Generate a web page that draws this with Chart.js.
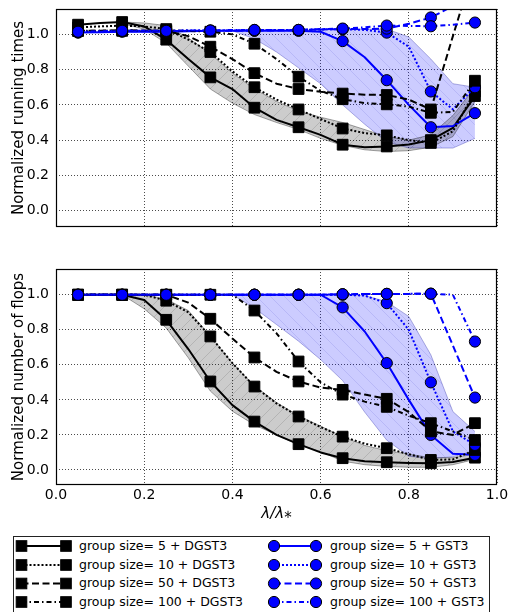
<!DOCTYPE html>
<html><head><meta charset="utf-8">
<script src="https://cdn.jsdelivr.net/npm/chart.js@4/dist/chart.umd.min.js"></script>
<style>
html,body{margin:0;padding:0;background:#fff;width:510px;height:612px;overflow:hidden;font-family:'DejaVu Sans',sans-serif;}
canvas{position:absolute;left:0;}
#c1{top:0;}
#c2{top:250px;}
#legend{position:absolute;left:13px;top:536px;width:477px;height:100px;border:1px solid #222;box-sizing:border-box;}
#legend svg{position:absolute;left:0;top:0;}
.lt{position:absolute;height:18px;line-height:18px;font-size:12.5px;white-space:nowrap;color:#000;}
</style></head><body>
<canvas id="c1" width="510" height="240"></canvas>
<canvas id="c2" width="510" height="280"></canvas>
<div id="legend"></div>
<script>
// ---------- data ----------
const lambdas = [0.05,0.10,0.15,0.20,0.25,0.30,0.35,0.40,0.45,0.50,0.55,0.60,0.65,0.70,0.75,0.80,0.85,0.90,0.95];
const xTicks = [0.0,0.2,0.4,0.6,0.8,1.0];
const yTicks = [0.0,0.2,0.4,0.6,0.8,1.0];
const groupSizes = ['5','10','50','100'];
const methods = ['DGST3','GST3'];

// running times (top)
const timeDGST3_5   = [1.055,1.065,1.07,1.045,0.97,0.86,0.756,0.69,0.584,0.515,0.473,0.43,0.374,0.36,0.364,0.375,0.40,0.47,0.65];
const timeDGST3_10  = [1.04,1.045,1.05,1.045,1.03,0.97,0.90,0.79,0.70,0.63,0.574,0.52,0.466,0.44,0.427,0.40,0.384,0.45,0.676];
const timeDGST3_50  = [1.02,1.02,1.025,1.02,1.02,0.99,0.93,0.86,0.78,0.72,0.69,0.675,0.664,0.658,0.656,0.63,0.574,0.99,1.40];
const timeDGST3_100 = [1.02,1.02,1.02,1.02,1.02,1.02,1.015,1.0,0.947,0.86,0.76,0.68,0.632,0.61,0.603,0.59,0.555,0.56,0.737];
const timeGST3_5    = [1.01,1.012,1.015,1.015,1.015,1.018,1.02,1.02,1.02,1.02,1.02,1.015,0.962,0.87,0.74,0.60,0.473,0.48,0.553];
const timeGST3_10   = [1.015,1.018,1.02,1.02,1.02,1.022,1.022,1.022,1.025,1.025,1.025,1.028,1.03,1.025,1.01,0.93,0.676,0.575,0.70];
const timeGST3_50   = [1.012,1.015,1.018,1.018,1.018,1.02,1.02,1.02,1.022,1.022,1.025,1.028,1.03,1.03,1.033,1.06,1.096,1.16,1.25];
const timeGST3_100  = [1.015,1.018,1.02,1.02,1.02,1.022,1.022,1.025,1.025,1.025,1.025,1.03,1.033,1.04,1.05,1.048,1.046,1.055,1.067];
const timeBandDGST3_low  = [null,null,1.06,1.03,0.95,0.82,0.69,0.61,0.545,0.50,0.46,0.41,0.37,0.345,0.335,0.34,0.36,0.42,0.62];
const timeBandDGST3_high = [null,null,1.07,1.065,1.05,0.98,0.89,0.78,0.69,0.62,0.565,0.53,0.50,0.46,0.42,0.40,0.43,0.54,0.70];
const timeBandGST3_low   = [null,null,null,null,null,null,null,1.02,0.975,0.90,0.81,0.72,0.60,0.49,0.39,0.355,0.355,0.355,0.41];
const timeBandGST3_high  = [null,null,null,null,null,null,null,1.02,1.025,1.025,1.025,1.025,1.03,1.03,1.03,0.985,0.86,0.72,0.70];

// number of flops (bottom)
const flopsDGST3_5   = [1,1,1,0.97,0.857,0.69,0.505,0.37,0.276,0.20,0.147,0.10,0.067,0.05,0.044,0.04,0.038,0.045,0.07];
const flopsDGST3_10  = [1,1,1,1,0.966,0.90,0.762,0.61,0.476,0.38,0.305,0.245,0.19,0.15,0.124,0.09,0.057,0.06,0.114];
const flopsDGST3_50  = [1,1,1,1,1,0.955,0.863,0.75,0.642,0.56,0.505,0.47,0.457,0.43,0.406,0.33,0.22,0.20,0.267];
const flopsDGST3_100 = [1,1,1,1,1,1,1,1,0.91,0.78,0.619,0.50,0.43,0.39,0.36,0.31,0.267,0.22,0.171];
const flopsGST3_5    = [1,1,1,1,1,1,1,1,1,1,1,1,0.928,0.79,0.61,0.40,0.20,0.092,0.086];
const flopsGST3_10   = [1,1,1,1,1,1,1,1,1,1,1,1,1,0.995,0.952,0.80,0.50,0.22,0.143];
const flopsGST3_50   = [1,1,1,1,1,1,1,1,1,1,1,1,1.003,1.004,1.005,1.005,1.006,0.71,0.413];
const flopsGST3_100  = [1,1,1,1,1,1,1,1,1,1,1,1,1.003,1.004,1.005,1.005,1.006,1.0,0.733];
const flopsBandDGST3_low  = [null,null,1.0,0.92,0.81,0.64,0.45,0.335,0.257,0.20,0.143,0.105,0.05,0.03,0.02,0.015,0.015,0.03,0.06];
const flopsBandDGST3_high = [null,null,1.0,1.0,0.975,0.91,0.765,0.61,0.48,0.385,0.31,0.25,0.19,0.14,0.11,0.09,0.07,0.07,0.09];
const flopsBandGST3_low   = [null,null,null,null,null,null,null,1.0,0.924,0.83,0.735,0.63,0.51,0.33,0.17,0.078,0.065,0.075,0.11];
const flopsBandGST3_high  = [null,null,null,null,null,null,null,1.0,1.0,1.0,1.0,1.0,1.0,0.996,0.96,0.876,0.657,0.333,0.219];

// ---------- styles ----------
const FONT = 'DejaVu Sans';
Chart.defaults.font.family = FONT;
Chart.defaults.color = '#000';
const dashes = { '5': [], '10': [2, 2], '50': [7, 3.5], '100': [5, 3, 1.5, 3] };
const colors = { DGST3: '#000000', GST3: '#0000ff' };
const shapes = { DGST3: 'rect', GST3: 'circle' };
const radii = { DGST3: 7.6, GST3: 5.6 };

function hatch(base, line, size, dir) {
  const c = document.createElement('canvas');
  c.width = size; c.height = size;
  const g = c.getContext('2d');
  g.fillStyle = base; g.fillRect(0, 0, size, size);
  g.strokeStyle = line; g.lineWidth = 1;
  g.beginPath();
  if (dir === '/') {
    g.moveTo(-1, size + 1); g.lineTo(size + 1, -1);
    g.moveTo(-2, 2); g.lineTo(2, -2);
    g.moveTo(size - 2, size + 2); g.lineTo(size + 2, size - 2);
  } else {
    g.moveTo(-1, -1); g.lineTo(size + 1, size + 1);
    g.moveTo(size - 2, -2); g.lineTo(size + 2, 2);
    g.moveTo(-2, size - 2); g.lineTo(2, size + 2);
  }
  g.stroke();
  return g.createPattern(c, 'repeat');
}

function pts(ys) { return lambdas.map((x, i) => ({ x: x, y: ys[i] })); }

function bandSets(low, high, fillPattern, edge, ord) {
  return [
    { data: pts(low), borderColor: edge, borderWidth: 1, pointRadius: 0, fill: false, order: ord },
    { data: pts(high), borderColor: edge, borderWidth: 1, pointRadius: 0, fill: '-1', backgroundColor: fillPattern, order: ord - 1 }
  ];
}

function seriesSet(ys, method, size, ord) {
  return {
    data: pts(ys),
    borderColor: colors[method],
    borderWidth: 2,
    borderDash: dashes[size],
    pointStyle: shapes[method],
    pointRadius: ctx => (ctx.dataIndex % 2 === 0 ? radii[method] : 0),
    pointHoverRadius: 0,
    pointBackgroundColor: colors[method],
    pointBorderColor: '#000',
    pointBorderWidth: 1,
    fill: false,
    tension: 0,
    order: ord
  };
}

const framePlugin = {
  id: 'frame',
  afterDatasetsDraw(chart) {
    const { ctx, chartArea: a } = chart;
    ctx.save();
    ctx.setLineDash([]);
    ctx.strokeStyle = '#000';
    ctx.lineWidth = 1.2;
    ctx.strokeRect(Math.round(a.left) + 0.5, Math.round(a.top) + 0.5, Math.round(a.right - a.left) - 1, Math.round(a.bottom - a.top) - 1);
    ctx.restore();
  }
};

function makeChart(canvasId, cfg) {
  const sets = [];
  sets.push(...bandSets(cfg.bandK[0], cfg.bandK[1], hatch('rgba(0,0,0,0.2)', 'rgba(0,0,0,0.12)', 13, '/'), 'rgba(0,0,0,0.35)', 101));
  sets.push(...bandSets(cfg.bandB[0], cfg.bandB[1], hatch('rgba(0,0,255,0.2)', 'rgba(60,60,200,0.14)', 14, '\\'), 'rgba(40,40,160,0.35)', 103));
  let ord = 20;
  groupSizes.forEach((gs, gi) => {
    methods.forEach(m => {
      sets.push(seriesSet(cfg.series[m][gi], m, gs, ord));
      ord -= 1;
    });
  });
  return new Chart(document.getElementById(canvasId), {
    type: 'line',
    data: { datasets: sets },
    plugins: [framePlugin],
    options: {
      responsive: false,
      animation: false,
      devicePixelRatio: 1,
      layout: { padding: { top: cfg.padTop, right: 13, left: 0, bottom: 0 } },
      plugins: { legend: { display: false }, tooltip: { enabled: false } },
      elements: { line: { borderCapStyle: 'butt', borderJoinStyle: 'round' } },
      scales: {
        x: {
          type: 'linear', min: 0, max: 1,
          afterBuildTicks: s => { s.ticks = xTicks.map(v => ({ value: v })); },
          afterFit: s => { s.height = cfg.xHeight; s.paddingLeft = 0; s.paddingRight = 0; },
          ticks: { display: cfg.showX, font: { size: 14 }, color: '#000', padding: 2, maxRotation: 0, autoSkip: false,
                   callback: v => Number(v).toFixed(1) },
          grid: { color: 'rgba(0,0,0,0.7)', lineWidth: 1, drawTicks: false },
          border: { display: false, dash: [1, 2] },
          title: { display: cfg.showX, text: 'λ/λ⁎', font: { size: 15, style: 'italic' }, color: '#000', padding: { top: 0, bottom: 7 } }
        },
        y: {
          type: 'linear', min: cfg.yMin, max: cfg.yMax,
          afterBuildTicks: s => { s.ticks = yTicks.map(v => ({ value: v })); },
          afterFit: s => { s.width = 56; s.paddingTop = 0; s.paddingBottom = 0; },
          ticks: { font: { size: 14 }, color: '#000', padding: 7, callback: v => Number(v).toFixed(1) },
          grid: { color: 'rgba(0,0,0,0.7)', lineWidth: 1, drawTicks: false },
          border: { display: false, dash: [1, 2] },
          title: { display: true, text: cfg.yTitle, font: { size: 15 }, color: '#000', padding: { top: 10, bottom: 0 } }
        }
      }
    }
  });
}

makeChart('c1', {
  padTop: 9, xHeight: 13, showX: false, yMin: -0.093, yMax: 1.144,
  yTitle: 'Normalized running times',
  bandK: [timeBandDGST3_low, timeBandDGST3_high],
  bandB: [timeBandGST3_low, timeBandGST3_high],
  series: {
    DGST3: [timeDGST3_5, timeDGST3_10, timeDGST3_50, timeDGST3_100],
    GST3: [timeGST3_5, timeGST3_10, timeGST3_50, timeGST3_100]
  }
});

makeChart('c2', {
  padTop: 19, xHeight: 45, showX: true, yMin: -0.086, yMax: 1.147,
  yTitle: 'Normalized number of flops',
  bandK: [flopsBandDGST3_low, flopsBandDGST3_high],
  bandB: [flopsBandGST3_low, flopsBandGST3_high],
  series: {
    DGST3: [flopsDGST3_5, flopsDGST3_10, flopsDGST3_50, flopsDGST3_100],
    GST3: [flopsGST3_5, flopsGST3_10, flopsGST3_50, flopsGST3_100]
  }
});

// ---------- legend ----------
(function buildLegend() {
  const lg = document.getElementById('legend');
  const ns = 'http://www.w3.org/2000/svg';
  const svg = document.createElementNS(ns, 'svg');
  svg.setAttribute('width', '477'); svg.setAttribute('height', '100');
  lg.appendChild(svg);
  const ox = 13, oy = 536;
  const rowsY = [545, 564, 582.5, 601];
  const cols = [
    { m: 'DGST3', x1: 20.5, x2: 65, tx: 79 },
    { m: 'GST3', x1: 273, x2: 315, tx: 330 }
  ];
  cols.forEach(c => {
    groupSizes.forEach((gs, i) => {
      const y = rowsY[i] - oy;
      const x1 = c.x1 - ox, x2 = c.x2 - ox;
      const ln = document.createElementNS(ns, 'line');
      ln.setAttribute('x1', x1); ln.setAttribute('x2', x2);
      ln.setAttribute('y1', y); ln.setAttribute('y2', y);
      ln.setAttribute('stroke', colors[c.m]); ln.setAttribute('stroke-width', '2');
      if (dashes[gs].length) ln.setAttribute('stroke-dasharray', dashes[gs].join(' '));
      svg.appendChild(ln);
      [x1, x2].forEach(mx => {
        let mk;
        if (shapes[c.m] === 'rect') {
          mk = document.createElementNS(ns, 'rect');
          mk.setAttribute('x', mx - 5.3); mk.setAttribute('y', y - 5.3);
          mk.setAttribute('width', 10.6); mk.setAttribute('height', 10.6);
        } else {
          mk = document.createElementNS(ns, 'circle');
          mk.setAttribute('cx', mx); mk.setAttribute('cy', y); mk.setAttribute('r', 5.6);
        }
        mk.setAttribute('fill', colors[c.m]); mk.setAttribute('stroke', '#000'); mk.setAttribute('stroke-width', '1');
        svg.appendChild(mk);
      });
      const t = document.createElement('div');
      t.className = 'lt';
      t.style.left = (c.tx - ox - 1) + 'px';
      t.style.top = (y - 9.5) + 'px';
      t.textContent = 'group size= ' + gs + ' + ' + c.m;
      lg.appendChild(t);
    });
  });
})();
</script>
</body></html>
